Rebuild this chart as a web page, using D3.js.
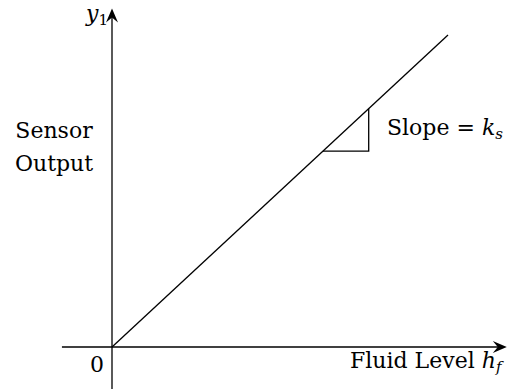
<!DOCTYPE html>
<html>
<head>
<meta charset="utf-8">
<script src="https://cdn.jsdelivr.net/npm/d3@7"></script>
<style>
  html, body { margin: 0; padding: 0; background: #fff; overflow: hidden; }
  svg { display: block; }
</style>
</head>
<body>
<svg id="chart" width="507" height="389"></svg>
<script>
// Linear sensor characteristic: output rises proportionally with fluid level.
const levels = [0, 1];          // fluid level h_f (normalised)
const outputs = [0, 1];         // sensor output y_1 (normalised)
// Slope triangle corners along the characteristic (h, y)
const slopeTriangle = [[0.628, 0.628], [0.764, 0.628], [0.764, 0.764]];
// Axis extents in data units
const xAxisRange = [-0.149, 1.175];
const yAxisRange = [-0.135, 1.085];
const labels = {
  origin: "0",
  yName: "y",
  ySub: "1",
  yTitle: ["Sensor", "Output"],
  xTitle: "Fluid Level ",
  xVar: "h",
  xSub: "f",
  slope: "Slope = ",
  slopeVar: "k",
  slopeSub: "s"
};

const svg = d3.select("#chart");
const x = d3.scaleLinear().domain([0, 1]).range([112, 448]);
const y = d3.scaleLinear().domain([0, 1]).range([347, 35]);

const ink = "#000";
const sw = 1.3;
const serif = "'DejaVu Serif', 'Liberation Serif', serif";

// Stealth-style arrowhead pointing along the given angle
function arrowHead(tx, ty, angle) {
  const len = 14, half = 6, back = 9;
  const pts = [
    [0, 0],
    [-len, -half],
    [-back, 0],
    [-len, half]
  ].map(([px, py]) => [
    tx + px * Math.cos(angle) - py * Math.sin(angle),
    ty + px * Math.sin(angle) + py * Math.cos(angle)
  ]);
  svg.append("path")
    .attr("d", "M" + pts.map(p => p.join(",")).join("L") + "Z")
    .attr("fill", ink);
}

// x axis
svg.append("line")
  .attr("x1", x(xAxisRange[0])).attr("x2", x(xAxisRange[1]) - 8)
  .attr("y1", y(0)).attr("y2", y(0))
  .attr("stroke", ink).attr("stroke-width", sw);
arrowHead(x(xAxisRange[1]), y(0), 0);

// y axis
svg.append("line")
  .attr("x1", x(0)).attr("x2", x(0))
  .attr("y1", y(yAxisRange[0])).attr("y2", y(yAxisRange[1]) + 8)
  .attr("stroke", ink).attr("stroke-width", sw);
arrowHead(x(0), y(yAxisRange[1]), -Math.PI / 2);

// characteristic line
svg.append("path")
  .datum(levels.map((h, i) => [h, outputs[i]]))
  .attr("d", d3.line().x(d => x(d[0])).y(d => y(d[1])))
  .attr("fill", "none").attr("stroke", ink).attr("stroke-width", sw);

// slope triangle
svg.append("path")
  .datum(slopeTriangle)
  .attr("d", d3.line().x(d => x(d[0])).y(d => y(d[1])))
  .attr("fill", "none").attr("stroke", ink).attr("stroke-width", sw);

// labels
const fs = 22;
const sub = 15;
function txt(xp, yp) {
  return svg.append("text").attr("x", xp).attr("y", yp)
    .attr("font-size", fs).attr("fill", ink)
    .style("font-family", serif)
    .attr("xml:space", "preserve");
}

txt(104, 372).attr("text-anchor", "end").text(labels.origin);

const yl = txt(86, 21);
yl.append("tspan").attr("font-style", "italic").text(labels.yName);
yl.append("tspan").attr("font-size", sub).attr("dy", 4).text(labels.ySub);

txt(54, 138).attr("text-anchor", "middle").text(labels.yTitle[0]);
txt(54, 171).attr("text-anchor", "middle").text(labels.yTitle[1]);

const xl = txt(350, 368);
xl.append("tspan").text(labels.xTitle);
xl.append("tspan").attr("font-style", "italic").text(labels.xVar);
xl.append("tspan").attr("font-size", sub).attr("font-style", "italic").attr("dy", 4).text(labels.xSub);

const sl = txt(387, 135);
sl.append("tspan").text(labels.slope);
sl.append("tspan").attr("font-style", "italic").text(labels.slopeVar);
sl.append("tspan").attr("font-size", sub).attr("font-style", "italic").attr("dy", 4).text(labels.slopeSub);
</script>
</body>
</html>
